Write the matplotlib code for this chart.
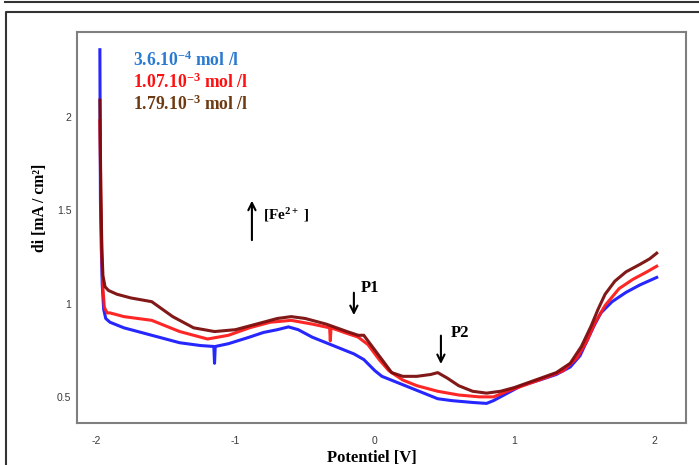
import matplotlib
matplotlib.use("Agg")
import matplotlib.pyplot as plt
from matplotlib.lines import Line2D

plt.rcParams['mathtext.fontset'] = 'custom'
plt.rcParams['mathtext.rm'] = 'Liberation Serif:bold'
plt.rcParams['mathtext.bf'] = 'Liberation Serif:bold'
plt.rcParams['mathtext.it'] = 'Liberation Serif:bold'

# ---- data ----
x_blue = [-1.972, -1.968, -1.962, -1.955, -1.945, -1.93, -1.90, -1.8, -1.6, -1.4, -1.25,
          -1.155, -1.15, -1.145, -1.05, -0.9, -0.8, -0.7, -0.62, -0.55, -0.45, -0.35, -0.25,
          -0.15, -0.08, 0.0, 0.05, 0.15, 0.25, 0.35, 0.45, 0.55, 0.7, 0.8, 0.85, 0.95, 1.05,
          1.18, 1.3, 1.4, 1.47, 1.52, 1.57, 1.62, 1.7, 1.8, 1.9, 2.02]
y_blue = [2.36, 1.55, 1.30, 1.10, 0.97, 0.92, 0.90, 0.87, 0.83, 0.79, 0.775,
          0.77, 0.68, 0.77, 0.785, 0.82, 0.845, 0.86, 0.875, 0.86, 0.82, 0.79, 0.76,
          0.73, 0.70, 0.64, 0.61, 0.58, 0.55, 0.52, 0.49, 0.48, 0.47, 0.465, 0.48, 0.52, 0.56,
          0.59, 0.62, 0.66, 0.72, 0.80, 0.88, 0.95, 1.01, 1.06, 1.10, 1.14]

x_red = [-1.972, -1.965, -1.958, -1.95, -1.94, -1.92, -1.9, -1.8, -1.6, -1.4, -1.2, -1.05,
         -0.9, -0.75, -0.6, -0.45, -0.325, -0.32, -0.315, -0.2, -0.12, -0.05, 0.03, 0.1, 0.2,
         0.3, 0.45, 0.6, 0.75, 0.85, 0.95, 1.1, 1.25, 1.35, 1.45, 1.52, 1.58, 1.65, 1.75,
         1.85, 1.95, 2.02]
y_red = [1.98, 1.55, 1.25, 1.08, 0.98, 0.95, 0.95, 0.93, 0.91, 0.85, 0.81, 0.83,
         0.87, 0.90, 0.91, 0.89, 0.87, 0.80, 0.87, 0.84, 0.82, 0.78, 0.70, 0.64, 0.59,
         0.56, 0.53, 0.51, 0.50, 0.50, 0.53, 0.57, 0.61, 0.64, 0.71, 0.80, 0.90, 0.99, 1.08,
         1.13, 1.17, 1.20]

x_brown = [-1.972, -1.965, -1.958, -1.95, -1.935, -1.91, -1.85, -1.75, -1.6, -1.45, -1.3,
           -1.15, -1.0, -0.85, -0.7, -0.6, -0.5, -0.35, -0.2, -0.12, -0.08, -0.03, 0.05, 0.12,
           0.2, 0.3, 0.4, 0.45, 0.52, 0.6, 0.7, 0.8, 0.9, 1.0, 1.15, 1.3, 1.4, 1.48, 1.55,
           1.6, 1.65, 1.72, 1.8, 1.9, 1.97, 2.02]
y_brown = [2.09, 1.6, 1.3, 1.15, 1.09, 1.07, 1.05, 1.03, 1.01, 0.93, 0.87,
           0.85, 0.86, 0.89, 0.92, 0.93, 0.92, 0.89, 0.85, 0.83, 0.83, 0.78, 0.70, 0.63,
           0.61, 0.61, 0.62, 0.63, 0.60, 0.56, 0.53, 0.52, 0.53, 0.55, 0.59, 0.63, 0.68, 0.77, 0.88,
           0.97, 1.05, 1.12, 1.17, 1.21, 1.24, 1.27]

series_labels = [r'3.6.10$^{-4}$ mol /l', r'1.07.10$^{-3}$ mol /l', r'1.79.10$^{-3}$ mol /l']
x_ticks = [-2, -1, 0, 1, 2]
y_ticks = [0.5, 1, 1.5, 2]

# ---- figure ----
fig = plt.figure(figsize=(6.99, 4.65), dpi=100)
ax = fig.add_axes([77/699, 42/465, (686-77)/699, (423-32)/465])

ax.plot(x_blue, y_blue, color='#1a1aff', lw=2.2, alpha=0.95, solid_joinstyle='round')
ax.plot(x_red, y_red, color='#ff1a1a', lw=2.2, alpha=0.95, solid_joinstyle='round')
ax.plot(x_brown, y_brown, color='#7a0c0c', lw=2.2, alpha=0.95, solid_joinstyle='round')

ax.set_xlim(-2.136, 2.23)
ax.set_ylim(0.36, 2.455)
ax.set_xticks(x_ticks)
ax.set_xticklabels([str(t) for t in x_ticks])
ax.set_yticks(y_ticks)
ax.set_yticklabels(['0.5', '1', '1.5', '2'])
ax.tick_params(axis='both', length=0, labelsize=7.5, labelcolor='#3a3a3a')
ax.tick_params(axis='x', pad=9)
ax.tick_params(axis='y', pad=4)
for lab in ax.get_xticklabels() + ax.get_yticklabels():
    lab.set_fontfamily('Liberation Sans')
for s in ax.spines.values():
    s.set_color('#7f7f7f')
    s.set_linewidth(1.5)

# legend texts
legend_colors = ['#2a7ad0', '#ff1010', '#6e3a12']
for i, (lab, c) in enumerate(zip(series_labels, legend_colors)):
    fig.text(133/699, 1 - (60 + 22*i)/465, lab, color=c, fontsize=12.7,
             fontfamily='Liberation Serif', fontweight='bold', va='center', ha='left')

# annotations
ax.annotate('', xy=(-0.882, 1.566), xytext=(-0.882, 1.325),
            arrowprops=dict(arrowstyle='->', color='black', lw=1.5, mutation_scale=13))
ax.text(-0.80, 1.475, r'[Fe$^{2+}$ ]', fontsize=11, fontfamily='Liberation Serif',
        fontweight='bold', va='center', ha='left')
ax.annotate('', xy=(-0.151, 0.923), xytext=(-0.151, 1.073),
            arrowprops=dict(arrowstyle='->', color='black', lw=1.5, mutation_scale=13))
ax.text(-0.10, 1.084, 'P1', fontsize=12, fontfamily='Liberation Serif',
        fontweight='bold', va='center', ha='left')
ax.annotate('', xy=(0.473, 0.661), xytext=(0.473, 0.843),
            arrowprops=dict(arrowstyle='->', color='black', lw=1.5, mutation_scale=13))
ax.text(0.54, 0.843, 'P2', fontsize=12, fontfamily='Liberation Serif',
        fontweight='bold', va='center', ha='left')

# axis labels
fig.text(372/699, 1 - 458/465, 'Potentiel [V]', fontsize=12, fontfamily='Liberation Serif',
         fontweight='bold', ha='center', va='center')
fig.text(40/699, 1 - 208/465, 'di [mA / cm²]', fontsize=11.3, fontfamily='Liberation Serif',
         fontweight='bold', ha='center', va='center', rotation=90)

# outer frame lines
fig.add_artist(Line2D([5/699, 1.0], [1 - 2/465, 1 - 2/465], color='#333333', lw=1.5,
                      transform=fig.transFigure))
fig.add_artist(Line2D([6/699, 6/699, 1.0], [0.0, 1 - 12/465, 1 - 12/465], color='#333333',
                      lw=1.5, transform=fig.transFigure))

fig.savefig('out.png', dpi=100)
